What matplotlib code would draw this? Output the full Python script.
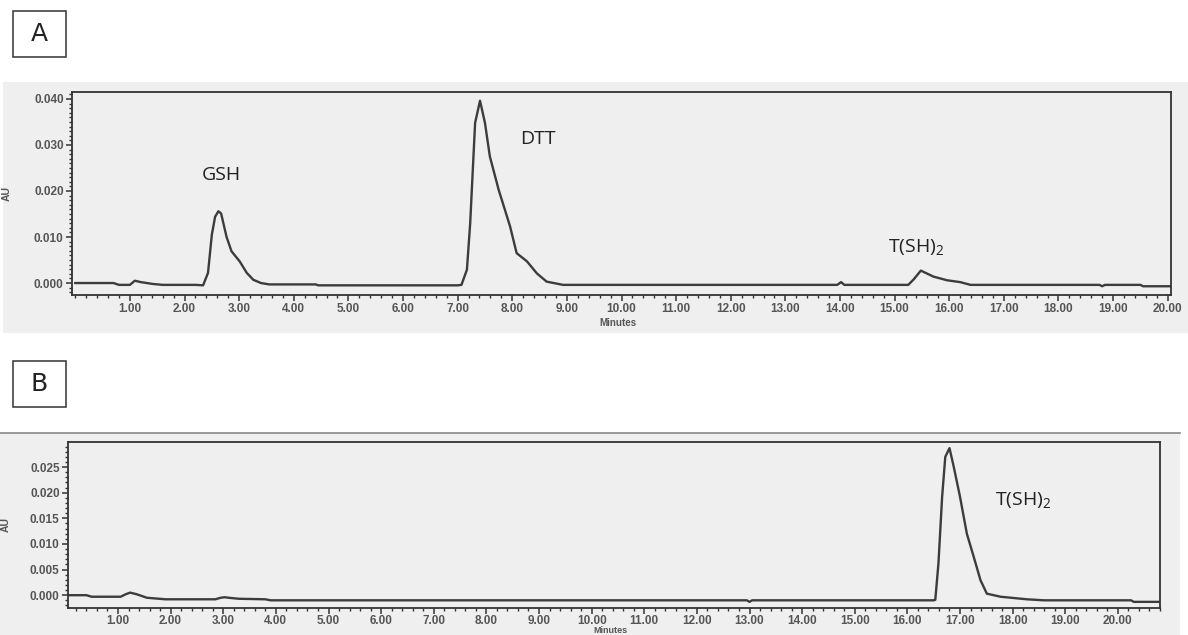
import matplotlib
matplotlib.use('Agg')
import matplotlib.pyplot as plt
from matplotlib.patches import Rectangle
from matplotlib.lines import Line2D
from matplotlib.ticker import MultipleLocator, FixedLocator, FormatStrFormatter

# --- DATA ---

# Panel A: GSH + DTT + T(SH)2 mixture
a_time = [0.00, 0.70, 0.80, 1.00, 1.09, 1.20, 1.42, 1.60, 2.20, 2.34,
          2.43, 2.50, 2.56, 2.62, 2.67, 2.77, 2.86, 3.01, 3.14, 3.26,
          3.40, 3.55, 4.40, 4.45, 7.00, 7.07, 7.17, 7.23, 7.26, 7.32,
          7.41, 7.50, 7.59, 7.75, 7.96, 8.08, 8.27, 8.45, 8.63, 8.93,
          13.95, 14.02, 14.08, 15.25, 15.35, 15.48, 15.71, 15.96, 16.20, 16.39,
          18.75, 18.80, 18.85, 19.50, 19.55, 20.06]
a_au = [0.0, 0.0, -0.0004, -0.0004, 0.0005, 0.0002, -0.0002, -0.0004, -0.0004, -0.0005,
        0.0022, 0.0105, 0.0144, 0.0156, 0.0151, 0.0100, 0.0069, 0.0047, 0.0022, 0.0007,
        0.0000, -0.0003, -0.0003, -0.0005, -0.0005, -0.0004, 0.0029, 0.0130, 0.0203, 0.0348,
        0.0396, 0.0348, 0.0275, 0.0203, 0.0123, 0.0065, 0.0047, 0.0021, 0.0003, -0.0004,
        -0.0004, 0.0002, -0.0004, -0.0004, 0.0008, 0.0027, 0.0014, 0.0006, 0.0002, -0.0004,
        -0.0004, -0.0007, -0.0004, -0.0004, -0.0007, -0.0007]

# Panel B: T(SH)2 only
b_time = [0.05, 0.40, 0.50, 1.05, 1.15, 1.23, 1.35, 1.55, 1.90, 2.85,
          2.95, 3.03, 3.10, 3.30, 3.80, 3.90, 12.95, 13.00, 13.05, 16.50,
          16.53, 16.59, 16.66, 16.72, 16.80, 16.88, 17.00, 17.13, 17.26, 17.39,
          17.51, 17.77, 18.27, 18.60, 20.25, 20.30, 20.80]
b_au = [0.0, 0.0, -0.0003, -0.0003, 0.0002, 0.0005, 0.0002, -0.0005, -0.0008, -0.0008,
        -0.0005, -0.0004, -0.0005, -0.0007, -0.0008, -0.0010, -0.0010, -0.0013, -0.0010, -0.0010,
        -0.0009, 0.0062, 0.0192, 0.0270, 0.0287, 0.0251, 0.0192, 0.0120, 0.0075, 0.0029,
        0.0003, -0.0003, -0.0008, -0.0010, -0.0010, -0.0013, -0.0013]

x_ticks = list(range(1, 21))
a_y_ticks = [0.000, 0.010, 0.020, 0.030, 0.040]
b_y_ticks = [0.000, 0.005, 0.010, 0.015, 0.020, 0.025]

# peak labels: (text, time, AU)
a_labels = [('GSH', 2.68, 0.0235), ('DTT', 8.47, 0.0312), ('T(SH)$_2$', 15.40, 0.0079)]
b_labels = [('T(SH)$_2$', 18.20, 0.0186)]

# --- FIGURE ---

W, H = 1188, 635
plt.rcParams['mathtext.default'] = 'regular'
fig = plt.figure(figsize=(W / 100, H / 100), dpi=100)

PANEL = '#efefef'
LINE = '#3c3c3c'
TICK_TXT = '#555555'


def px_rect(x0, y0, x1, y1):
    # pixel box (top-left origin) -> figure fraction
    return [x0 / W, 1 - y1 / H, (x1 - x0) / W, (y1 - y0) / H]


# gray window backgrounds (behind the axes)
r = px_rect(3, 82, 1188, 333)
fig.patches.append(Rectangle((r[0], r[1]), r[2], r[3], transform=fig.transFigure,
                             facecolor=PANEL, edgecolor='none', zorder=-2))
r = px_rect(0, 433, 1180, 635)
fig.patches.append(Rectangle((r[0], r[1]), r[2], r[3], transform=fig.transFigure,
                             facecolor=PANEL, edgecolor='none', zorder=-2))
fig.lines.append(Line2D([0, 1180 / W], [1 - 433 / H] * 2, transform=fig.transFigure,
                        color='#8a8a8a', lw=1.2, zorder=-1))

# panel letters
for letter, y0 in [('A', 11), ('B', 361)]:
    r = px_rect(13, y0, 66, y0 + 46)
    fig.patches.append(Rectangle((r[0], r[1]), r[2], r[3], transform=fig.transFigure,
                                 facecolor='white', edgecolor='#333333', lw=1.1, zorder=-1))
    fig.text(39.5 / W, 1 - (y0 + 23) / H, letter, ha='center', va='center',
             fontsize=18, family='DejaVu Sans', color='#222222')


def style_axes(ax, yticks, ymin_minor, label_x, minutes_y, xpad, minutes_size):
    ax.set_facecolor(PANEL)
    for s in ax.spines.values():
        s.set_color('#333333')
        s.set_linewidth(1.3)
    ax.xaxis.set_major_locator(FixedLocator(x_ticks))
    ax.xaxis.set_minor_locator(MultipleLocator(0.2))
    ax.xaxis.set_major_formatter(FormatStrFormatter('%.2f'))
    ax.yaxis.set_major_locator(FixedLocator(yticks))
    ax.yaxis.set_minor_locator(MultipleLocator(ymin_minor))
    ax.yaxis.set_major_formatter(FormatStrFormatter('%.3f'))
    ax.tick_params(which='major', direction='out', length=4, width=1.1, color='#333333',
                   labelsize=8.5, labelcolor=TICK_TXT, pad=2)
    ax.tick_params(axis='x', which='major', pad=xpad)
    ax.tick_params(which='minor', direction='out', length=2, width=1.0, color='#333333')
    for lab in ax.get_xticklabels() + ax.get_yticklabels():
        lab.set_family('Liberation Sans')
        lab.set_fontweight('bold')
    ax.set_ylabel('AU', fontsize=7.5, fontweight='bold', color=TICK_TXT, family='Liberation Sans')
    ax.yaxis.set_label_coords(label_x, 0.5)
    ax.set_xlabel('Minutes', fontsize=minutes_size, fontweight='bold', color=TICK_TXT,
                  family='Liberation Sans')
    ax.xaxis.set_label_coords(0.497, minutes_y)


# --- PANEL A ---
axA = fig.add_axes(px_rect(72, 92, 1171, 295))
axA.plot(a_time, a_au, color=LINE, lw=1.7)
axA.set_xlim(-0.06, 20.06)
axA.set_ylim(-0.0026, 0.0415)
style_axes(axA, a_y_ticks, 0.001, -0.055, -0.112, 2, 7)
for txt, t, v in a_labels:
    axA.text(t, v, txt, ha='center', va='center', fontsize=14, family='Open Sans', color='#222222')

# --- PANEL B ---
axB = fig.add_axes(px_rect(68, 442, 1160, 608))
axB.plot(b_time, b_au, color=LINE, lw=1.7)
axB.set_xlim(0.05, 20.8)
axB.set_ylim(-0.0025, 0.0299)
style_axes(axB, b_y_ticks, 0.001, -0.052, -0.108, 1, 6.5)
for txt, t, v in b_labels:
    axB.text(t, v, txt, ha='center', va='center', fontsize=14, family='Open Sans', color='#222222')

fig.savefig('out.png', dpi=100)
